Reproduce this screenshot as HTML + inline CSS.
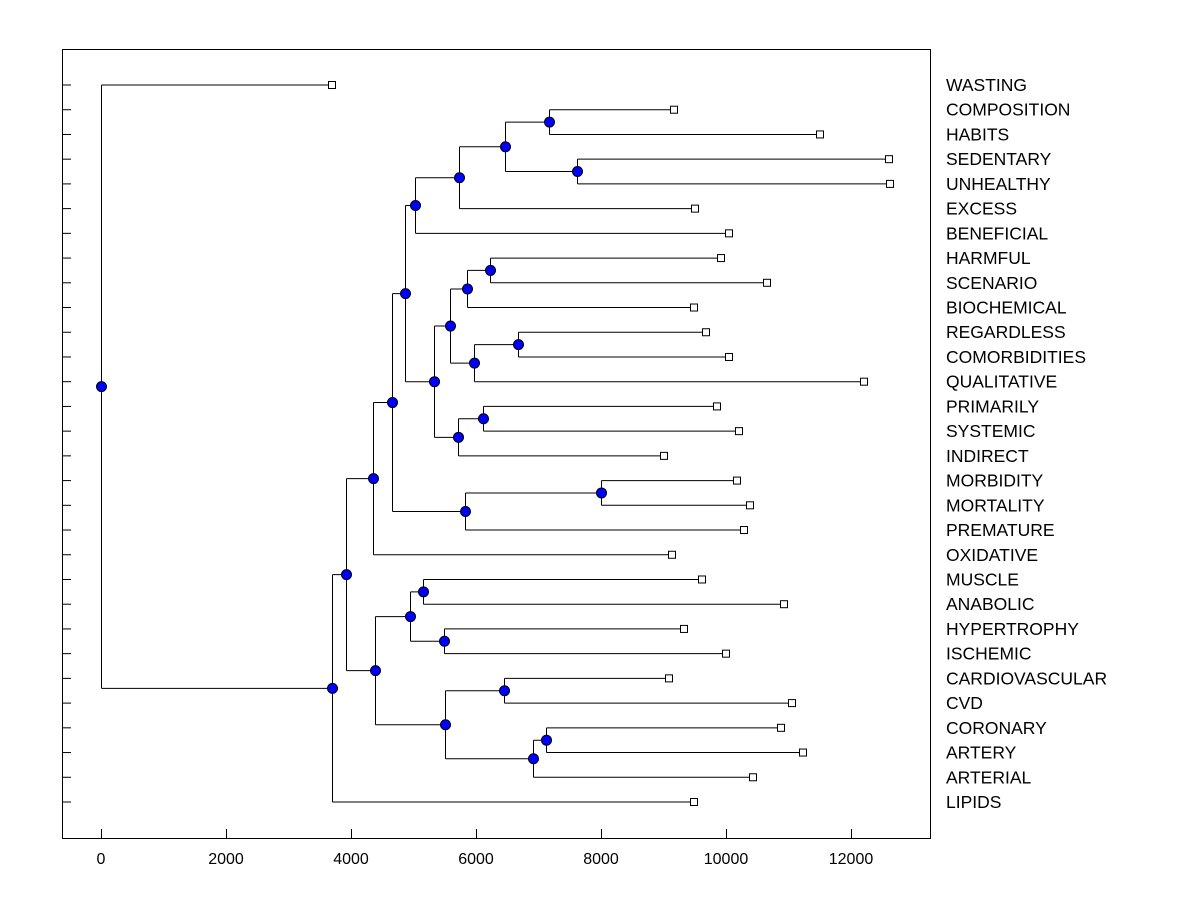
<!DOCTYPE html>
<html><head><meta charset="utf-8"><style>
body{margin:0;background:#fff}
svg text{font-family:"Liberation Sans",Arial,sans-serif;font-size:16px;fill:#000}
svg text.leaf{font-size:17.5px}
</style></head><body>
<svg id="chart" width="1200" height="900" xmlns="http://www.w3.org/2000/svg">
<rect x="62.5" y="49.5" width="868" height="789" fill="none" stroke="#000" stroke-width="1"/>
<g id="g"></g>
</svg>
<script>
const leafNames=["WASTING","COMPOSITION","HABITS","SEDENTARY","UNHEALTHY","EXCESS","BENEFICIAL","HARMFUL","SCENARIO","BIOCHEMICAL","REGARDLESS","COMORBIDITIES","QUALITATIVE","PRIMARILY","SYSTEMIC","INDIRECT","MORBIDITY","MORTALITY","PREMATURE","OXIDATIVE","MUSCLE","ANABOLIC","HYPERTROPHY","ISCHEMIC","CARDIOVASCULAR","CVD","CORONARY","ARTERY","ARTERIAL","LIPIDS"];
const leafValues=[3696,9168,11504,12608,12624,9504,10048,9920,10656,9488,9680,10048,12208,9856,10208,9008,10176,10384,10288,9136,9616,10928,9328,10000,9088,11056,10880,11232,10432,9488];
// internal nodes: [name, height, child1, child2]
const nodes=[
["root",0,"WASTING","A"],["A",3696,"B","LIPIDS"],["B",3920,"C","D"],["C",4352,"E","OXIDATIVE"],
["E",4656,"F","G"],["G",5824,"H","PREMATURE"],["H",8000,"MORBIDITY","MORTALITY"],
["F",4864,"I","J"],["I",5024,"K","BENEFICIAL"],["K",5728,"L","EXCESS"],["L",6464,"M","N"],
["M",7168,"COMPOSITION","HABITS"],["N",7616,"SEDENTARY","UNHEALTHY"],
["J",5328,"O","P"],["O",5584,"Q","R"],["Q",5856,"S","BIOCHEMICAL"],["S",6224,"HARMFUL","SCENARIO"],
["R",5968,"T","QUALITATIVE"],["T",6672,"REGARDLESS","COMORBIDITIES"],
["P",5712,"U","INDIRECT"],["U",6112,"PRIMARILY","SYSTEMIC"],
["D",4384,"V","W"],["V",4944,"X","Y"],["X",5152,"MUSCLE","ANABOLIC"],["Y",5488,"HYPERTROPHY","ISCHEMIC"],
["W",5504,"Z","AA"],["Z",6448,"CARDIOVASCULAR","CVD"],["AA",6912,"AB","ARTERIAL"],["AB",7120,"CORONARY","ARTERY"]];
const xTicks=[0,2000,4000,6000,8000,10000,12000];
const NS="http://www.w3.org/2000/svg";
const g=document.getElementById('g');
const X=v=>101+v*750/12000;
const Y=i=>84.5+i*(802-85)/29;
function mk(t,a){const e=document.createElementNS(NS,t);for(const k in a)e.setAttribute(k,a[k]);g.appendChild(e);return e;}
leafNames.forEach((n,i)=>{const t=mk('line',{x1:62,x2:71,y1:Y(i)+.5,y2:Y(i)+.5,stroke:'#000'});


const l=mk('text',{x:946,y:Y(i)+6.5,'class':'leaf'});l.textContent=n;

});
xTicks.forEach(v=>{const t=mk('line',{x1:X(v)+.5,x2:X(v)+.5,y1:829,y2:838,stroke:'#000'});


const l=mk('text',{x:X(v),y:864,'text-anchor':'middle'});l.textContent=v;

});
const pos={};
leafNames.forEach((n,i)=>pos[n]={x:leafValues[i],y:Y(i),leaf:true});
const map={};nodes.forEach(n=>map[n[0]]=n);
function resolve(name){if(pos[name])return pos[name];const n=map[name];const a=resolve(n[2]),b=resolve(n[3]);pos[name]={x:n[1],y:(a.y+b.y)/2};return pos[name];}
resolve("root");
nodes.forEach(n=>{const p=pos[n[0]],a=pos[n[2]],b=pos[n[3]];
const d=`M${X(p.x)+.5},${a.y+.5}V${b.y+.5}M${X(p.x)+.5},${a.y+.5}H${X(a.x)}M${X(p.x)+.5},${b.y+.5}H${X(b.x)}`;
const e=mk('path',{d:d,stroke:'#000',fill:'none','stroke-width':1});

});
leafNames.forEach(n=>{const p=pos[n];const r=mk('rect',{x:X(p.x)-3.5,y:p.y-3,width:7,height:7,fill:'#fff',stroke:'#000'});

});
nodes.forEach(n=>{const p=pos[n[0]];const c=mk('circle',{cx:X(p.x)+.5,cy:p.y+.5,r:5,fill:'#0000ff',stroke:'#000'});

});
</script>
</body></html>
